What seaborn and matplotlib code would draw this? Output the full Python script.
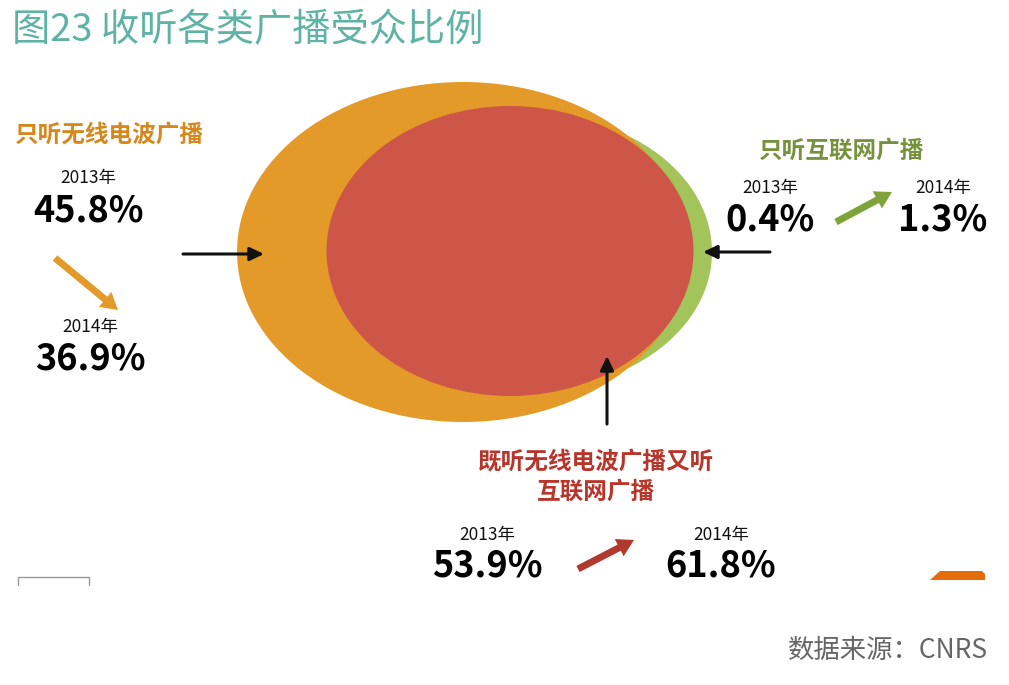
import matplotlib
matplotlib.use("Agg")
import matplotlib.pyplot as plt
from matplotlib.patches import Ellipse, FancyArrowPatch, ArrowStyle, Polygon
import seaborn as sns

# ---- data ----
title = "图23 收听各类广播受众比例"
source = "数据来源：CNRS"
categories = ["只听无线电波广播", "只听互联网广播", "既听无线电波广播又听\n互联网广播"]
years = ["2013年", "2014年"]
share_2013 = [45.8, 0.4, 53.9]
share_2014 = [36.9, 1.3, 61.8]

sns.set_theme(style="white")
plt.rcParams['font.family'] = ['Noto Sans CJK SC', 'DejaVu Sans']

orange, green, red = "#e39a28", "#a3c45a", "#cd5648"
label_cols = ["#d6881d", "#76923c", "#b8352b"]
arrow_cols = ["#e39a28", "#7fa33a", "#b03a2e"]

fig = plt.figure(figsize=(10.09, 6.85), dpi=100)
ax = fig.add_axes([0, 0, 1, 1])
ax.set_xlim(0, 1009)
ax.set_ylim(685, 0)
ax.axis("off")

# ellipses (venn-like)
ax.add_patch(Ellipse((530, 252), 364, 276, color=green, lw=0, zorder=1))
ax.add_patch(Ellipse((463, 252), 452, 340, color=orange, lw=0, zorder=2))
ax.add_patch(Ellipse((510, 251), 367, 290, color=red, lw=0, zorder=3))

fig.text(12 / 1009, 1 - 31 / 685, title, fontsize=27.5, color="#5fb3a5",
         fontweight="light", ha="left", va="center")

# category labels
ax.text(15, 135, categories[0], fontsize=17, color=label_cols[0], fontweight="bold",
        ha="left", va="center")
ax.text(842, 151, categories[1], fontsize=17, color=label_cols[1], fontweight="bold",
        ha="center", va="center")
ax.text(596, 477, categories[2], fontsize=17, color=label_cols[2], fontweight="bold",
        ha="center", va="center", linespacing=1.25)

# value positions (layout)
pos13 = [(88, 178, 211), (770, 188, 220), (487, 535, 566)]
pos14 = [(90, 327, 359), (943, 188, 220), (721, 535, 566)]
for i in range(3):
    x, yy, yv = pos13[i]
    ax.text(x, yy, years[0], fontsize=12.5, ha="center", va="center", color="#111111")
    ax.text(x, yv, f"{share_2013[i]:.1f}%", fontsize=26, fontweight="bold",
            ha="center", va="center", color="#000000")
    x, yy, yv = pos14[i]
    ax.text(x, yy, years[1], fontsize=12.5, ha="center", va="center", color="#111111")
    ax.text(x, yv, f"{share_2014[i]:.1f}%", fontsize=26, fontweight="bold",
            ha="center", va="center", color="#000000")

# trend arrows
trend = [((55, 258), (118, 310)), ((836, 222), (892, 192)), ((578, 569), (634, 540))]
for (a, b), c in zip(trend, arrow_cols):
    ax.add_patch(FancyArrowPatch(a, b, arrowstyle=ArrowStyle.Simple(head_length=12, head_width=14, tail_width=5),
                                 color=c, lw=0, shrinkA=0, shrinkB=0, zorder=5))

# pointer arrows (black)
pointers = [((183, 254), (264, 254)), ((770, 252), (703, 252)), ((607, 424), (607, 356))]
for a, b in pointers:
    ax.add_patch(FancyArrowPatch(a, b, arrowstyle=ArrowStyle("-|>", head_length=0.42, head_width=0.2),
                                 mutation_scale=20, color="#111111", lw=2.2, shrinkA=0, shrinkB=0, zorder=6))

# cropped artifacts at bottom
ax.plot([18, 18, 89, 89], [585, 577, 577, 585], color="#999999", lw=1, zorder=4)
ax.add_patch(Polygon([(930, 580), (940, 571), (982, 571), (985, 574), (985, 580)],
                     closed=True, color="#e46c0a", lw=0, zorder=4))

ax.text(988, 650, source, fontsize=19, color="#666666", fontweight="light",
        ha="right", va="center", zorder=7)

fig.savefig("out.png", dpi=100)
